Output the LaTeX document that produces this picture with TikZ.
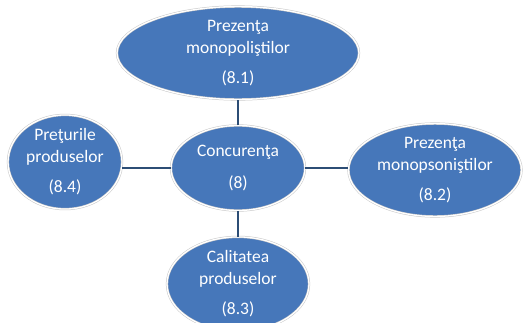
\documentclass[tikz,border=0pt]{standalone}
\usepackage{fontspec}
\setmainfont{Carlito}
\usetikzlibrary{shapes.geometric}

\definecolor{bubble}{HTML}{4677BA}
\definecolor{link}{HTML}{2C4D75}

\begin{document}
\begin{tikzpicture}[x=1pt, y=-1pt,
    bubble/.style={ellipse, draw=gray!45, line width=0.5pt, fill=bubble,
      double=white, double distance=1.3pt,
      text=white, align=center, inner sep=0pt,
      font=\fontsize{17.5}{22}\selectfont},
    link/.style={draw=link, line width=2.5pt}]

  \useasboundingbox (0,0) rectangle (530,322);

  \node[bubble, minimum width=242, minimum height=87] (M) at (238,53)
    {Prezenţa\\monopoliştilor\\[8pt](8.1)};
  \node[bubble, minimum width=134, minimum height=85] (C) at (238,168)
    {Concurenţa\\[10pt](8)};
  \node[bubble, minimum width=114, minimum height=89] (P) at (65,162)
    {Preţurile\\produselor\\[8pt](8.4)};
  \node[bubble, minimum width=173, minimum height=88] (S) at (435,170)
    {Prezenţa\\monopsoniştilor\\[8pt](8.2)};
  \node[bubble, minimum width=142, minimum height=86] (Q) at (238,284)
    {Calitatea\\produselor\\[8pt](8.3)};

  \draw[link] (C) -- (M);
  \draw[link] (C.west) -- (P.east |- C.west);
  \draw[link] (C.east) -- (S.west |- C.east);
  \draw[link] (C) -- (Q);

\end{tikzpicture}
\end{document}
